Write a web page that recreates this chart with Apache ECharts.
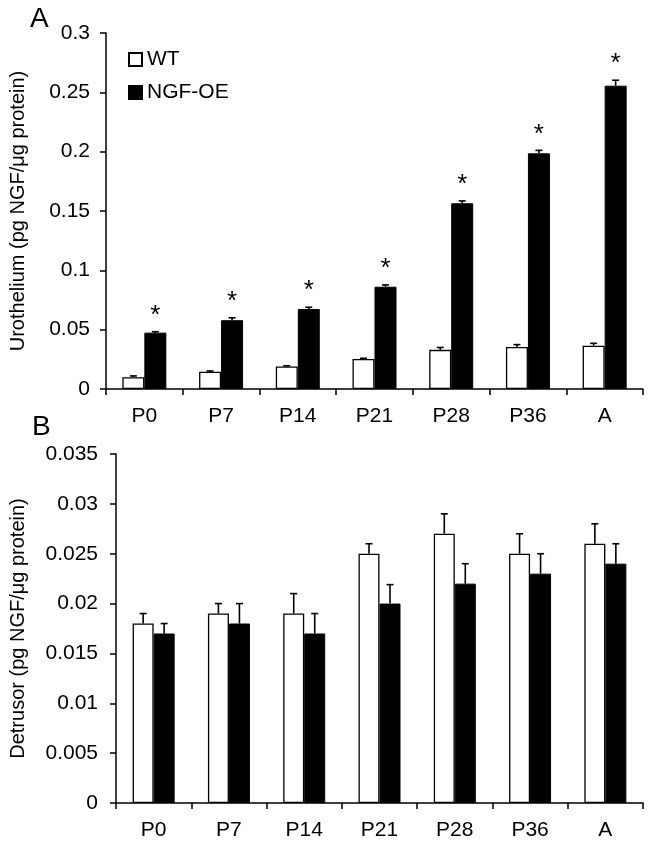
<!DOCTYPE html>
<html>
<head>
<meta charset="utf-8">
<script src="https://cdn.jsdelivr.net/npm/echarts@6/dist/echarts.min.js"></script>
<style>html,body{margin:0;padding:0;background:#fff;}#c{width:654px;height:848px;}</style>
</head>
<body>
<div id="c"></div>
<script>
const categories = ['P0', 'P7', 'P14', 'P21', 'P28', 'P36', 'A'];
const uroYTicks = [0, 0.05, 0.1, 0.15, 0.2, 0.25, 0.3];
const detYTicks = [0, 0.005, 0.01, 0.015, 0.02, 0.025, 0.03, 0.035];

const uroWT = [0.010, 0.0146, 0.019, 0.0253, 0.033, 0.0354, 0.0365];
const uroWTErr = [0.001, 0.0006, 0.0006, 0.0006, 0.002, 0.002, 0.002];
const uroOE = [0.0475, 0.058, 0.0674, 0.0862, 0.1565, 0.1986, 0.2556];
const uroOEErr = [0.0008, 0.002, 0.0015, 0.0015, 0.002, 0.0025, 0.0046];
const uroSig = ['*', '*', '*', '*', '*', '*', '*'];

const detWT = [0.018, 0.019, 0.019, 0.025, 0.027, 0.025, 0.026];
const detWTErr = [0.001, 0.001, 0.002, 0.001, 0.002, 0.002, 0.002];
const detOE = [0.017, 0.018, 0.017, 0.020, 0.022, 0.023, 0.024];
const detOEErr = [0.001, 0.002, 0.002, 0.0019, 0.002, 0.002, 0.002];

const FONT = 'Liberation Sans, Arial, sans-serif';
const BW_TOP = 22, BW_BOT = 21;

function errData(vals, errs) { return vals.map((v, i) => [i, v, errs[i]]); }

function errSeries(name, vals, errs, xi, offset) {
  return {
    type: 'custom', name: name, xAxisIndex: xi, yAxisIndex: xi, z: 5,
    data: errData(vals, errs),
    renderItem: function (params, api) {
      const i = api.value(0), v = api.value(1), e = api.value(2);
      const b = api.coord([i, v]);
      const t = api.coord([i, v + e]);
      const x = b[0] + offset;
      const cap = 3.5;
      return {
        type: 'group',
        children: [
          { type: 'line', shape: { x1: x, y1: b[1], x2: x, y2: t[1] }, style: { stroke: '#000', lineWidth: 1.6 } },
          { type: 'line', shape: { x1: x - cap, y1: t[1], x2: x + cap, y2: t[1] }, style: { stroke: '#000', lineWidth: 1.6 } }
        ]
      };
    }
  };
}

function starSeries(vals, errs, marks, xi, offset) {
  return {
    type: 'custom', xAxisIndex: xi, yAxisIndex: xi, z: 6,
    data: vals.map((v, i) => [i, v + errs[i], marks[i]]),
    renderItem: function (params, api) {
      const p = api.coord([api.value(0), api.value(1)]);
      return {
        type: 'text',
        style: { x: p[0] + offset, y: p[1] - 3, text: marks[params.dataIndex], fill: '#000',
          font: '26px ' + FONT, textAlign: 'center', textVerticalAlign: 'bottom' }
      };
    }
  };
}

const axisLineStyle = { color: '#000', width: 1.5 };

function xAxisCfg(gi) {
  return {
    type: 'category', gridIndex: gi, data: categories,
    axisLine: { lineStyle: axisLineStyle },
    axisTick: { show: true, length: 6, lineStyle: axisLineStyle },
    axisLabel: { color: '#000', fontSize: 21, fontFamily: FONT, margin: 17 },
    splitLine: { show: false }
  };
}

function yAxisCfg(gi, ticks, name, gap, margin, fmt) {
  return {
    type: 'value', gridIndex: gi, min: ticks[0], max: ticks[ticks.length - 1],
    interval: ticks[1] - ticks[0],
    name: name, nameLocation: 'middle', nameGap: gap, nameRotate: 90,
    nameTextStyle: { color: '#000', fontSize: 20, fontFamily: FONT },
    axisLine: { show: true, lineStyle: axisLineStyle },
    axisTick: { show: true, length: 6, lineStyle: axisLineStyle },
    axisLabel: { color: '#000', fontSize: 21, fontFamily: FONT, margin: margin, formatter: fmt },
    splitLine: { show: false }
  };
}

const fmt = v => String(parseFloat(v.toFixed(4)));

const chart = echarts.init(document.getElementById('c'));
chart.setOption({
  animation: false,
  backgroundColor: '#fff',
  title: [
    { text: 'A', left: 25, top: 0, textStyle: { fontSize: 28, fontWeight: 'normal', color: '#000', fontFamily: FONT } },
    { text: 'B', left: 27, top: 408, textStyle: { fontSize: 28, fontWeight: 'normal', color: '#000', fontFamily: FONT } }
  ],
  legend: {
    orient: 'vertical', left: 128, top: 49, padding: 0, itemGap: 12, itemWidth: 13, itemHeight: 13,
    data: ['WT', 'NGF-OE'],
    textStyle: { color: '#000', fontSize: 21, fontFamily: FONT },
    icon: 'rect'
  },
  grid: [
    { left: 105, top: 33, width: 538, height: 356 },
    { left: 116, top: 454, width: 527, height: 349 }
  ],
  xAxis: [xAxisCfg(0), xAxisCfg(1)],
  yAxis: [
    yAxisCfg(0, uroYTicks, 'Urothelium (pg NGF/\u03bcg protein)', 78, 16, fmt),
    yAxisCfg(1, detYTicks, 'Detrusor (pg NGF/\u03bcg protein)', 88, 18, fmt)
  ],
  series: [
    { type: 'bar', name: 'WT', xAxisIndex: 0, yAxisIndex: 0, data: uroWT, barWidth: BW_TOP, barGap: '0%',
      itemStyle: { color: '#fff', borderColor: '#000', borderWidth: 1.3 } },
    { type: 'bar', name: 'NGF-OE', xAxisIndex: 0, yAxisIndex: 0, data: uroOE, barWidth: BW_TOP, barGap: '0%',
      itemStyle: { color: '#000', borderColor: '#000', borderWidth: 1 } },
    { type: 'bar', name: 'WT', xAxisIndex: 1, yAxisIndex: 1, data: detWT, barWidth: BW_BOT, barGap: '0%',
      itemStyle: { color: '#fff', borderColor: '#000', borderWidth: 1.3 } },
    { type: 'bar', name: 'NGF-OE', xAxisIndex: 1, yAxisIndex: 1, data: detOE, barWidth: BW_BOT, barGap: '0%',
      itemStyle: { color: '#000', borderColor: '#000', borderWidth: 1 } },
    errSeries('errUroWT', uroWT, uroWTErr, 0, -BW_TOP / 2),
    errSeries('errUroOE', uroOE, uroOEErr, 0, BW_TOP / 2),
    errSeries('errDetWT', detWT, detWTErr, 1, -BW_BOT / 2),
    errSeries('errDetOE', detOE, detOEErr, 1, BW_BOT / 2),
    starSeries(uroOE, uroOEErr, uroSig, 0, BW_TOP / 2)
  ]
});
</script>
</body>
</html>
